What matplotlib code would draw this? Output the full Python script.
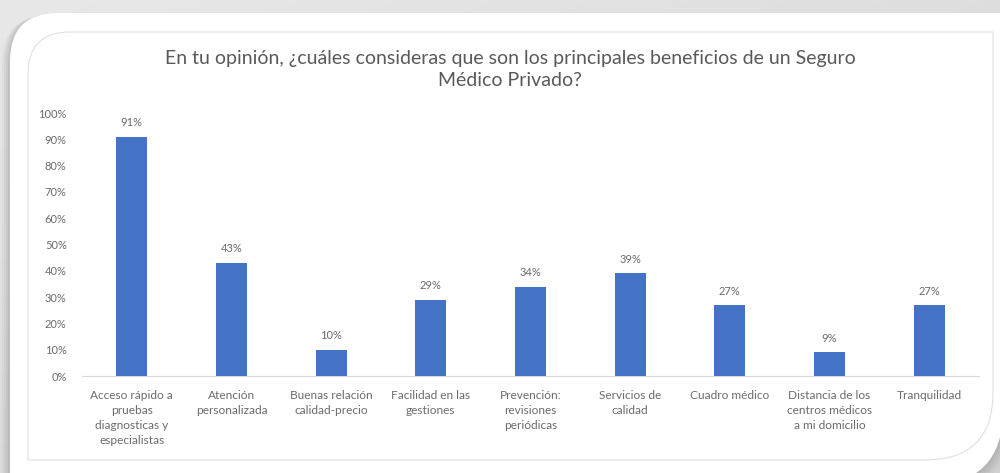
import numpy as np
import matplotlib.pyplot as plt
from matplotlib.path import Path
from matplotlib.patches import PathPatch
from matplotlib import rcParams

rcParams["font.family"] = ["Lato", "DejaVu Sans"]

categorias = [
    "Acceso rápido a\npruebas\ndiagnosticas y\nespecialistas",
    "Atención\npersonalizada",
    "Buenas relación\ncalidad-precio",
    "Facilidad en las\ngestiones",
    "Prevención:\nrevisiones\nperiódicas",
    "Servicios de\ncalidad",
    "Cuadro médico",
    "Distancia de los\ncentros médicos\na mi domicilio",
    "Tranquilidad",
]
porcentajes = [91, 43, 10, 29, 34, 39, 27, 9, 27]
ticks_y = [0, 10, 20, 30, 40, 50, 60, 70, 80, 90, 100]

AZUL = "#4472c4"
GRIS_TXT = "#595959"
GRIS_ETQ = "#6b6b6b"

W, H = 1000, 473


def caja(x0, y0, x1, y1, r_tl, r_br):
    # rectángulo con esquinas redondeadas solo arriba-izq y abajo-der (y hacia abajo)
    verts = [(x0, y0 + r_tl), (x0, y0), (x0 + r_tl, y0),
             (x1, y0), (x1, y1 - r_br), (x1, y1), (x1 - r_br, y1),
             (x0, y1), (x0, y0 + r_tl)]
    codes = [Path.MOVETO, Path.CURVE3, Path.CURVE3,
             Path.LINETO, Path.LINETO, Path.CURVE3, Path.CURVE3,
             Path.LINETO, Path.CLOSEPOLY]
    return Path(verts, codes)


fig = plt.figure(figsize=(W / 100, H / 100), dpi=100)
fig.patch.set_facecolor("#d0d0d0")

# fondo gris con sombra y tarjeta blanca
bg = fig.add_axes([0, 0, 1, 1])
bg.set_xlim(0, W); bg.set_ylim(H, 0); bg.axis("off")
gy = np.linspace(0.0, 1.0, 200)[:, None]
gx = np.linspace(0.0, 1.0, 400)[None, :]
tono = 0.91 - 0.05 * gy - 0.04 * gx
bg.imshow(np.dstack([tono, tono, tono]), extent=[0, W, H, 0], aspect="auto", zorder=0)
for i, a in enumerate([0.08, 0.10, 0.12, 0.16]):
    d = 8 - 2 * i
    bg.add_patch(PathPatch(caja(10 - d, 13 + d * 0.3, 1003 + d, 485 + d, 48, 75),
                           fc="#8c8c8c", ec="none", alpha=a, zorder=1))
bg.add_patch(PathPatch(caja(10, 13, 1003, 485, 48, 75), fc="white", ec="none", zorder=2))
bg.add_patch(PathPatch(caja(28, 32, 993, 460, 42, 68), fc="none", ec="#e3e3e3",
                       lw=0.9, zorder=3))

# gráfico de barras
ax = fig.add_axes([82 / W, 1 - 376 / H, (979 - 82) / W, (376 - 113) / H])
ax.set_facecolor("none")
x = np.arange(len(categorias))
ax.bar(x, porcentajes, width=0.31, color=AZUL, zorder=3)
for xi, v in zip(x, porcentajes):
    ax.text(xi, v + 3.2, f"{v}%", ha="center", va="bottom", fontsize=8, color=GRIS_ETQ)

ax.set_xlim(-0.5, len(categorias) - 0.5)
ax.set_ylim(0, 100)
ax.set_yticks(ticks_y)
ax.set_yticklabels([f"{t}%" for t in ticks_y], fontsize=8, color=GRIS_ETQ)
ax.set_xticks(x)
ax.set_xticklabels(categorias, fontsize=8.6, color=GRIS_ETQ, linespacing=1.45)
ax.tick_params(axis="y", length=0, pad=11)
ax.tick_params(axis="x", length=0, pad=10)
for s in ["top", "right", "left"]:
    ax.spines[s].set_visible(False)
ax.spines["bottom"].set_color("#d9d9d9")

fig.text(0.51, 1 - 69.5 / H,
         "En tu opinión, ¿cuáles consideras que son los principales beneficios de un Seguro\nMédico Privado?",
         ha="center", va="center", fontsize=14, color=GRIS_TXT, linespacing=1.3)

fig.savefig("out.png", dpi=100, facecolor=fig.get_facecolor())
